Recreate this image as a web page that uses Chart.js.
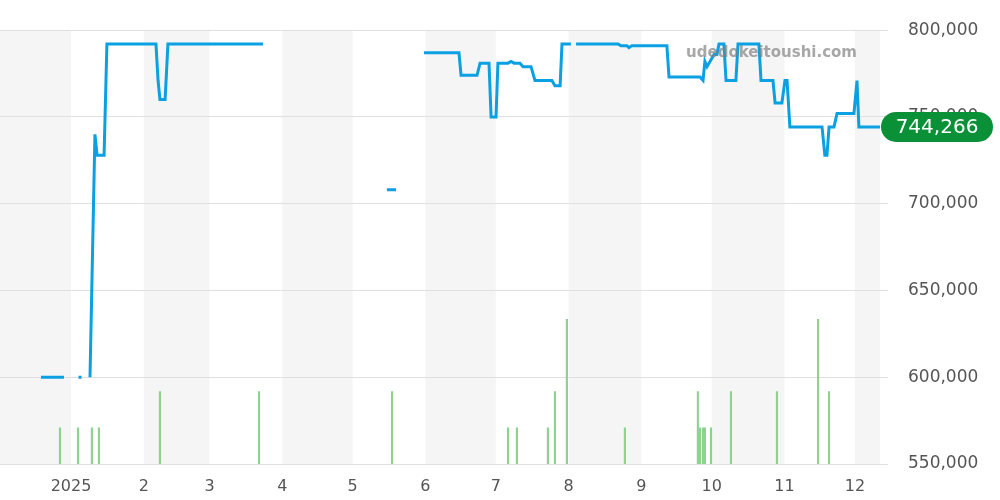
<!DOCTYPE html>
<html>
<head>
<meta charset="UTF-8">
<script src="https://cdn.jsdelivr.net/npm/chart.js"></script>
<style>
  body { margin: 0; background: #fff; }
  #wrap { width: 1000px; height: 500px; }
</style>
</head>
<body>
<div id="wrap"><canvas id="grafico"></canvas></div>
<script>
  // days since 2025-01-01
  const priceDays = [-12.8, -3.0, null, 3.2, 4.5, null, 8.1, 10.2, 11.1, 14.1, 15.3, 36.2, 37.1, 37.9, 40.1, 41.3, 81.8, null,
    134.6, 138.5, null,
    150.4, 165.3, 166.2, 173.0, 174.3, 178.1, 179.0, 181.1, 181.9, 186.2, 187.5, 188.8, 191.3, 192.6, 196.0, 197.7, 204.9, 206.2, 208.4, 209.2, 213.0, null,
    215.2, 233.1, 234.3, 236.9, 237.7, 239.0, 253.9, 254.8, 268.0, 269.3, 270.1, 271.0, 272.7, 274.0, 275.2, 276.1, 278.2, 279.1, 283.3, 284.2, 293.1, 294.0, 299.1, 300.0, 302.9, 304.2, 305.1, 306.3, 320.0, 321.2, 322.1, 323.0, 325.1, 326.4, 333.6, 334.9, 335.7, 344.7];
  const priceValues = [600000, 600000, null, 600000, 600000, null, 600000, 740000, 728000, 728000, 792000, 792000, 771000, 760000, 760000, 792000, 792000, null,
    708000, 708000, null,
    787000, 787000, 774000, 774000, 781000, 781000, 750000, 750000, 781000, 781000, 782000, 781000, 781000, 779000, 779000, 771000, 771000, 768000, 768000, 792000, 792000, null,
    792000, 792000, 791000, 791000, 790000, 791000, 791000, 773000, 773000, 771000, 782000, 779000, 783000, 786000, 786000, 792000, 792000, 771000, 771000, 792000, 792000, 771000, 771000, 758000, 758000, 771000, 771000, 744266, 744266, 728000, 728000, 744266, 744266, 752000, 752000, 771000, 744266, 744266];
  const volumeDays = [-4.7, 3.0, 8.9, 11.9, 37.9, 80.1, 136.8, 186.2, 190.0, 203.2, 206.2, 211.3, 236.0, 267.1, 268.0, 269.3, 270.1, 272.7, 281.2, 300.8, 318.3, 323.0];
  const volumeValues = [1, 1, 1, 1, 2, 2, 2, 1, 1, 1, 2, 4, 1, 2, 1, 1, 1, 1, 2, 2, 4, 2];
  const monthTicks = [0, 31, 59, 90, 120, 151, 181, 212, 243, 273, 304, 334];
  const monthLabels = ['2025', '2', '3', '4', '5', '6', '7', '8', '9', '10', '11', '12'];
  const shadedMonths = [[-40, 0], [31, 59], [90, 120], [151, 181], [212, 243], [273, 304], [334, 400]];
  const lastPrice = 744266;

  const xMin = -30.25, xMax = 344.7;

  const pricePoints = priceDays.map((d, i) => d === null ? { x: NaN, y: null } : { x: d, y: priceValues[i] });
  const volumePoints = volumeDays.map((d, i) => ({ x: d, y: volumeValues[i] }));

  const bandas = {
    id: 'bandas',
    beforeDraw(chart) {
      const { ctx, chartArea, scales } = chart;
      ctx.save();
      ctx.fillStyle = '#f5f5f5';
      shadedMonths.forEach(([a, b]) => {
        const x1 = Math.max(scales.x.getPixelForValue(a), chartArea.left);
        const x2 = Math.min(scales.x.getPixelForValue(b), chartArea.right);
        if (x2 > x1) ctx.fillRect(x1, chartArea.top, x2 - x1, chartArea.bottom - chartArea.top);
      });
      ctx.restore();
    },
    afterDraw(chart) {
      const { ctx, chartArea, scales } = chart;
      ctx.save();
      ctx.font = 'bold 15px "DejaVu Sans"';
      ctx.fillStyle = 'rgba(130,130,130,0.7)';
      ctx.textAlign = 'right';
      ctx.textBaseline = 'middle';
      ctx.fillText('udedokeitoushi.com', 857, 53);
      // price badge
      const y = scales.y.getPixelForValue(lastPrice);
      const x = chartArea.right + 1, w = 112, h = 30;
      ctx.fillStyle = '#0a9138';
      ctx.beginPath();
      ctx.roundRect(x, y - h / 2, w, h, 15);
      ctx.fill();
      ctx.fillStyle = '#fff';
      ctx.font = '20px "DejaVu Sans"';
      ctx.textAlign = 'center';
      ctx.fillText('744,266', x + w / 2, y + 1);
      ctx.restore();
    }
  };

  new Chart(document.getElementById('grafico'), {
    data: {
      datasets: [
        {
          type: 'line',
          data: pricePoints,
          borderColor: '#0aa0e2',
          borderWidth: 3,
          pointRadius: 0,
          tension: 0,
          spanGaps: false,
          yAxisID: 'y',
          order: 1
        },
        {
          type: 'bar',
          data: volumePoints,
          backgroundColor: '#8fd18f',
          barThickness: 1.5,
          yAxisID: 'y2',
          order: 2
        }
      ]
    },
    plugins: [bandas],
    options: {
      responsive: true,
      maintainAspectRatio: false,
      animation: false,
      layout: { padding: { top: 30, left: 0, right: 0, bottom: 0 } },
      plugins: { legend: { display: false }, tooltip: { enabled: false } },
      scales: {
        x: {
          type: 'linear',
          min: xMin,
          max: xMax,
          offset: false,
          afterBuildTicks: s => { s.ticks = monthTicks.map(v => ({ value: v })); },
          afterFit: s => { s.height = 36; },
          ticks: {
            autoSkip: false,
            maxRotation: 0,
            color: '#555',
            padding: 5,
            font: { size: 16, family: 'DejaVu Sans' },
            callback: (v) => monthLabels[monthTicks.indexOf(v)]
          },
          grid: { display: false },
          border: { display: false }
        },
        y: {
          position: 'right',
          min: 550000,
          max: 800000,
          afterBuildTicks: s => { s.ticks = [550000, 600000, 650000, 700000, 750000, 800000].map(v => ({ value: v })); },
          afterFit: s => { s.width = 120; },
          ticks: {
            color: '#555',
            padding: 20,
            font: { size: 17, family: 'DejaVu Sans' },
            callback: v => v.toLocaleString('en-US')
          },
          grid: { color: '#e0e0e0', tickLength: 8 },
          border: { display: false }
        },
        y2: {
          display: false,
          min: 0,
          max: 12
        }
      }
    }
  });
</script>
</body>
</html>
